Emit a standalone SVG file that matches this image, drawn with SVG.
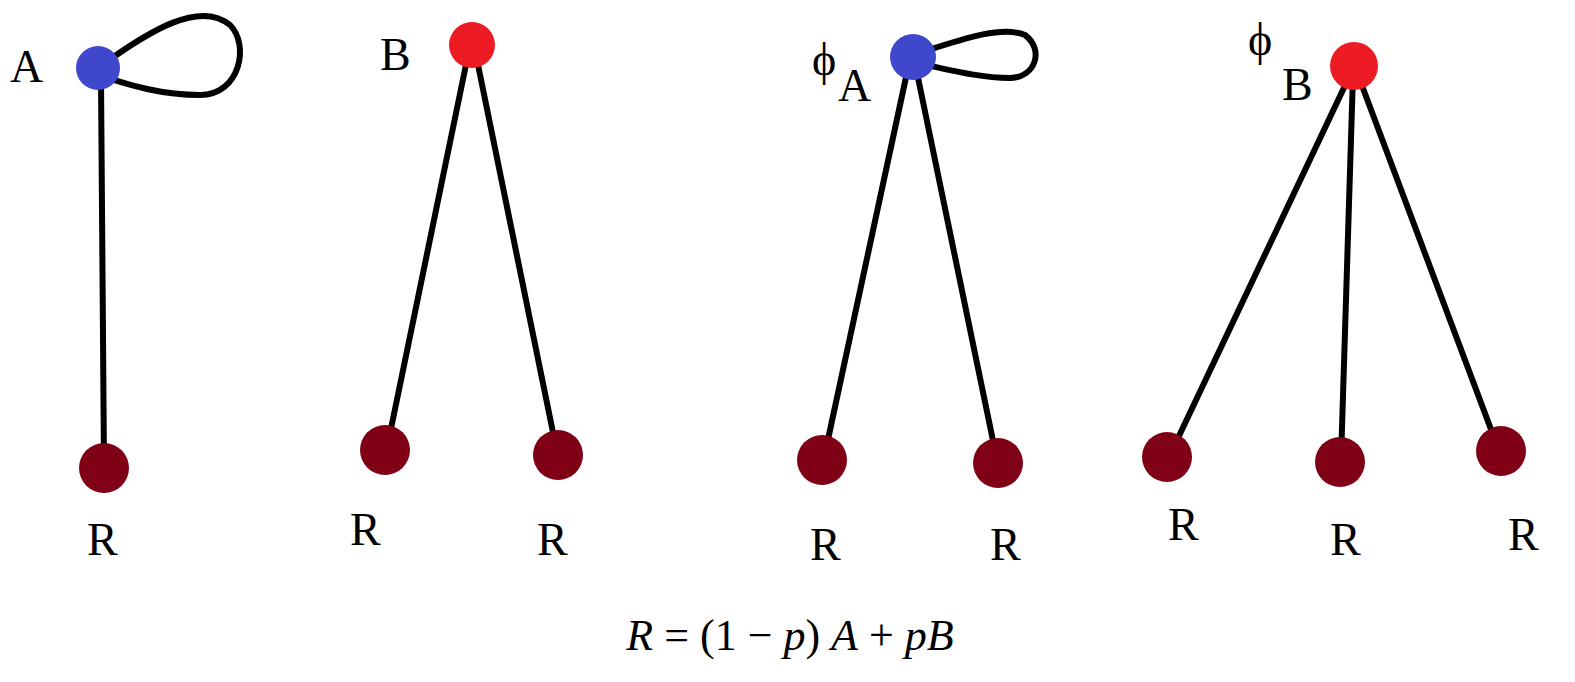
<svg xmlns="http://www.w3.org/2000/svg" width="1575" height="682" viewBox="0 0 1575 682">
<style>
.e{stroke:#000;stroke-width:6;fill:none;stroke-linecap:round}
.a{fill:#3f48cc}.b{fill:#ed1c24}.r{fill:#800015}
text{font-family:"Liberation Serif",serif;font-size:46px;fill:#000}
.m{font-style:italic;font-size:44px}
</style>
<rect width="1575" height="682" fill="#fff"/>
<g id="edges">
<path class="e" d="M98,68 C150,30 200,0 230,25 C250,45 240,95 200,95 C160,95 130,85 98,75"/>
<line class="e" x1="101" y1="80" x2="104" y2="465"/>
<line class="e" x1="468" y1="55" x2="387" y2="448"/>
<line class="e" x1="476" y1="55" x2="557" y2="452"/>
<path class="e" d="M913,55 C960,40 1000,25 1025,35 C1045,50 1035,78 1010,78 C980,78 950,70 913,62"/>
<line class="e" x1="908" y1="68" x2="824" y2="458"/>
<line class="e" x1="916" y1="68" x2="997" y2="460"/>
<line class="e" x1="1350" y1="75" x2="1170" y2="455"/>
<line class="e" x1="1353" y1="75" x2="1341" y2="460"/>
<line class="e" x1="1358" y1="75" x2="1498" y2="448"/>
</g>
<g id="A"><circle class="a" cx="98" cy="68" r="22"/><text x="10" y="82">A</text></g>
<g id="R1"><circle class="r" cx="104" cy="468" r="25"/><text x="87" y="555">R</text></g>
<g id="B"><circle class="b" cx="472" cy="45" r="23"/><text x="380" y="70">B</text></g>
<g id="R2"><circle class="r" cx="385" cy="450" r="25"/><text x="350" y="545">R</text></g>
<g id="R3"><circle class="r" cx="558" cy="455" r="25"/><text x="537" y="555">R</text></g>
<g id="phiA"><circle class="a" cx="913" cy="57" r="23"/><text x="812" y="75">ϕ</text><text x="838" y="101">A</text></g>
<g id="R4"><circle class="r" cx="822" cy="460" r="25"/><text x="810" y="560">R</text></g>
<g id="R5"><circle class="r" cx="998" cy="463" r="25"/><text x="990" y="560">R</text></g>
<g id="phiB"><circle class="b" cx="1354" cy="66" r="24"/><text x="1248" y="55">ϕ</text><text x="1282" y="100">B</text></g>
<g id="R6"><circle class="r" cx="1167" cy="457" r="25"/><text x="1168" y="540">R</text></g>
<g id="R7"><circle class="r" cx="1340" cy="462" r="25"/><text x="1330" y="555">R</text></g>
<g id="R8"><circle class="r" cx="1501" cy="451" r="25"/><text x="1508" y="550">R</text></g>
<text class="m" x="790" y="650" text-anchor="middle">R <tspan font-style="normal">= (1 − </tspan>p<tspan font-style="normal">) </tspan>A<tspan font-style="normal"> + </tspan>pB</text>
</svg>
